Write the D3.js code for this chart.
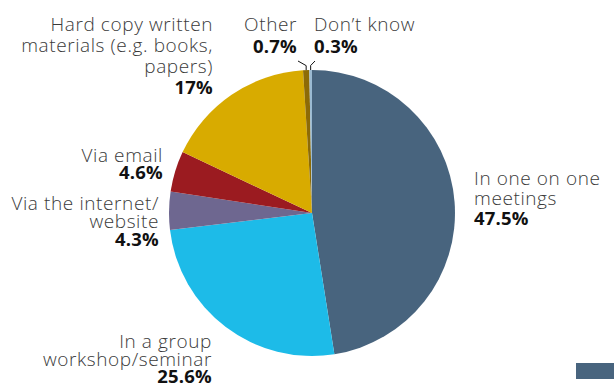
<!DOCTYPE html>
<html>
<head>
<meta charset="utf-8">
<script src="https://cdn.jsdelivr.net/npm/d3@7"></script>
<style>
  html, body { margin: 0; padding: 0; background: #fff; }
  svg { display: block; }
  .name { font-family: "Open Sans", sans-serif; font-weight: 300; fill: #3a3a3a; font-size: 19px; letter-spacing: 0.6px; }
  .pct { font-family: "Open Sans", sans-serif; font-weight: 700; fill: #111; font-size: 18.5px; letter-spacing: 0.2px; }
</style>
</head>
<body>
<svg id="chart" width="614" height="383"></svg>
<script>
// Survey responses: preferred ways of receiving information
const categories = [
  "In one on one meetings",
  "In a group workshop/seminar",
  "Via the internet/ website",
  "Via email",
  "Hard copy written materials (e.g. books, papers)",
  "Other",
  "Don’t know"
];
const values = [47.5, 25.6, 4.3, 4.6, 17, 0.7, 0.3];
const categoryLines = [
  ["In one on one", "meetings"],
  ["In a group", "workshop/seminar"],
  ["Via the internet/", "website"],
  ["Via email"],
  ["Hard copy written", "materials (e.g. books,", "papers)"],
  ["Other"],
  ["Don’t know"]
];
const colors = ["#48647e", "#1dbbe8", "#6e6790", "#9b1b20", "#d8ab00", "#8d6b06", "#9bbad2"];

// Label placement: anchor x, first baseline, line step, text-anchor, leader line
const labelLayout = [
  { x: 474, y: 185, step: 20,  anchor: "start" },
  { x: 212, y: 348, step: 17.5, anchor: "end" },
  { x: 159, y: 210, step: 18,  anchor: "end" },
  { x: 163, y: 162, step: 16.5, anchor: "end" },
  { x: 213, y: 31,  step: 21,  anchor: "end" },
  { x: 297, y: 31,  step: 21.5, anchor: "end", leader: [298, 61] },
  { x: 314, y: 31,  step: 21.5, anchor: "start", leader: [315, 61] }
];

const svg = d3.select("#chart");
const cx = 312, cy = 213, radius = 143;

const pie = d3.pie().sort(null).value(d => d);
const arcs = pie(values);
const arc = d3.arc().innerRadius(0).outerRadius(radius);

const g = svg.append("g").attr("transform", `translate(${cx},${cy})`);
g.selectAll("path.slice")
  .data(arcs)
  .join("path")
  .attr("class", "slice")
  .attr("d", arc)
  .attr("fill", (d, i) => colors[i]);

// Leader lines for the two thin slices at the top
arcs.forEach((d, i) => {
  const lay = labelLayout[i];
  if (!lay.leader) return;
  const mid = (d.startAngle + d.endAngle) / 2;
  const ex = cx + radius * Math.sin(mid);
  const ey = cy - radius * Math.cos(mid);
  svg.append("path")
    .attr("d", d3.line()([[ex, ey], [ex, ey - 4.5], lay.leader]))
    .attr("fill", "none")
    .attr("stroke", "#111")
    .attr("stroke-width", 1);
});

// Category names with percentages beneath
categories.forEach((c, i) => {
  const lay = labelLayout[i];
  const lines = categoryLines[i];
  const t = svg.append("text")
    .attr("text-anchor", lay.anchor);
  lines.forEach((ln, k) => {
    t.append("tspan")
      .attr("class", "name")
      .attr("x", lay.x)
      .attr("y", lay.y + k * lay.step)
      .text(ln);
  });
  t.append("tspan")
    .attr("class", "pct")
    .attr("x", lay.x)
    .attr("y", lay.y + lines.length * lay.step)
    .text(values[i] + "%");
});

// Legend swatch peeking in at the lower right
svg.append("rect")
  .attr("x", 576).attr("y", 363)
  .attr("width", 40).attr("height", 16)
  .attr("fill", colors[0]);
</script>
</body>
</html>
